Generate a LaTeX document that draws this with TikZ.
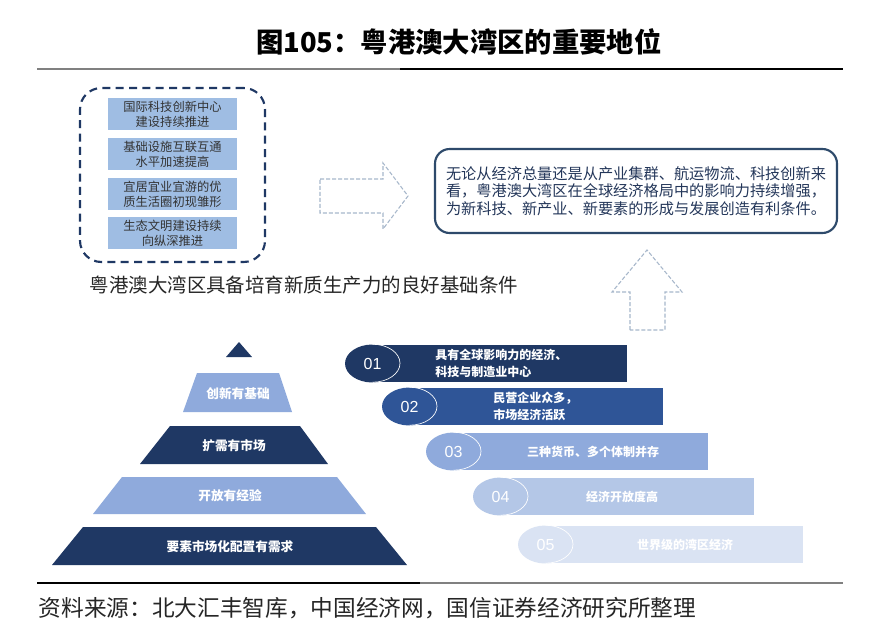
\documentclass[tikz,border=0pt]{standalone}
\usepackage{fontspec}
\setmainfont{Noto Sans CJK SC}
\newfontfamily\numfont{Liberation Sans}
\usetikzlibrary{shapes.geometric,positioning}
\definecolor{navy}{HTML}{1F3864}
\definecolor{midblue}{HTML}{2F5597}
\definecolor{lightblue}{HTML}{8FAADC}
\definecolor{paleblue}{HTML}{B4C7E7}
\definecolor{faintblue}{HTML}{DAE3F3}
\definecolor{boxblue}{HTML}{9FBDE3}
\definecolor{arrowgray}{HTML}{A7B7CB}
\definecolor{framecol}{HTML}{2E4A6B}
\definecolor{textnavy}{HTML}{24375A}

\begin{document}
\begin{tikzpicture}[x=0.75pt,y=-0.75pt,
    innerbox/.style={fill=boxblue,text=black!80,font=\fontsize{9.2}{11.25}\selectfont,
      align=center,minimum width=96.75pt,minimum height=24pt,inner sep=0pt},
    pyrtext/.style={text=white,font=\fontsize{9.5}{11}\selectfont\bfseries},
    bartext/.style={text=white,font=\fontsize{9}{13.3}\selectfont\bfseries,align=left,inner sep=0pt},
    numtext/.style={text=white,font=\numfont\fontsize{12}{12}\selectfont},
    blockarrow/.style={draw=arrowgray,line width=0.8pt,dash pattern=on 3pt off 1.5pt}]
  \useasboundingbox (0,0) rectangle (880,632);
  \fill[white] (0,0) rectangle (880,632);

  % title and rules
  \node[font=\fontsize{20.5}{24}\selectfont\bfseries] (title) at (459,42) {图105：粤港澳大湾区的重要地位};
  \draw[gray,line width=1.2pt] (37,69) -- (400,69);
  \draw[black,line width=1.2pt] (400,69) -- (843,69);
  \draw[black,line width=1.2pt] (37,583) -- (420,583);
  \draw[gray,line width=1.2pt] (420,583) -- (843,583);

  % dashed frame with the four conditions
  \node[draw=navy,line width=1.6pt,dash pattern=on 6pt off 4pt,rounded corners=16pt,
    minimum width=138.75pt,minimum height=130.5pt] (frame) at (172.5,175) {};
  \node[innerbox] (b1) at (172.5,114) {国际科技创新中心\\建设持续推进};
  \node[innerbox] (b2) at (172.5,154) {基础设施互联互通\\水平加速提高};
  \node[innerbox] (b3) at (172.5,194) {宜居宜业宜游的优\\质生活圈初现雏形};
  \node[innerbox] (b4) at (172.5,233) {生态文明建设持续\\向纵深推进};
  \node[anchor=west,text=black!85,font=\fontsize{14.6}{16}\selectfont] (base) at (85,285)
    {粤港澳大湾区具备培育新质生产力的良好基础条件};

  % dashed block arrows
  \draw[blockarrow] (320,179) -- (383,179) -- (383,163) -- (408,196) -- (383,229)
    -- (383,213) -- (320,213) -- cycle;
  \draw[blockarrow] (630,330) -- (630,292) -- (612,292) -- (647,250) -- (682,292)
    -- (665,292) -- (665,330) -- cycle;

  % conclusion box
  \node[draw=framecol,line width=1.6pt,rounded corners=11pt,minimum width=301.5pt,
    minimum height=63pt,align=left,text=textnavy,font=\fontsize{11.4}{13.1}\selectfont] (info) at (636,191)
    {无论从经济总量还是从产业集群、航运物流、科技创新来\\看，粤港澳大湾区在全球经济格局中的影响力持续增强，\\为新科技、新产业、新要素的形成与发展创造有利条件。};

  % pyramid
  \fill[navy] (226,357) -- (252,357) -- (239,342) -- cycle;
  \fill[lightblue] (183,412) -- (292,412) -- (279,373) -- (197,373) -- cycle;
  \fill[navy] (140,464) -- (328,464) -- (300,426) -- (170,426) -- cycle;
  \fill[lightblue] (93,514) -- (366,514) -- (337,477) -- (122,477) -- cycle;
  \fill[navy] (52,565) -- (407,565) -- (376,527) -- (83,527) -- cycle;
  \node[pyrtext] (p2) at (238,394) {创新有基础};
  \node[pyrtext] (p3) at (234,446) {扩需有市场};
  \node[pyrtext] (p4) at (230,496) {开放有经验};
  \node[pyrtext] (p5) at (230,547) {要素市场化配置有需求};

  % numbered bars
  \foreach \n/\xl/\yt/\xr/\col in {01/345/345/627/navy,02/382/388/663/midblue,
      03/426/433/708/lightblue,04/473/478/754/paleblue,05/518/526/803/faintblue}{
    \fill[\col] (\xl+27.5,\yt) rectangle (\xr,\yt+37);
    \node[ellipse,fill=\col,minimum width=41.25pt,minimum height=28.5pt,inner sep=0pt,numtext]
      (n\n) at (\xl+27.5,\yt+18.5) {\n};
    \draw[white,line width=0.5pt] (n\n.north) arc[start angle=-90,end angle=90,x radius=27.5,y radius=19];
  }
  \node[bartext,anchor=west] (t1) at (435,363.5) {具有全球影响力的经济、\\科技与制造业中心};
  \node[bartext,anchor=west] (t2) at (493,406.5) {民营企业众多，\\市场经济活跃};
  \node[bartext] (t3) at (593,451.5) {三种货币、多个体制并存};
  \node[bartext] (t4) at (622,496.5) {经济开放度高};
  \node[bartext] (t5) at (685,544.5) {世界级的湾区经济};

  % source
  \node[anchor=west,text=black!85,font=\fontsize{17}{19}\selectfont] (source) at (34,608)
    {资料来源：北大汇丰智库，中国经济网，国信证券经济研究所整理};
\end{tikzpicture}
\end{document}
